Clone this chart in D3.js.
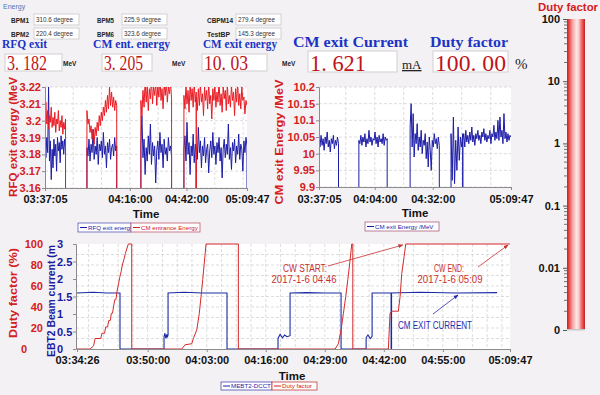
<!DOCTYPE html>
<html>
<head>
<meta charset="utf-8">
<title>CW commissioning monitor</title>
<script src="https://cdn.jsdelivr.net/npm/d3@7"></script>
<style>
  body { margin: 0; background: #f4f1f4; }
  svg { display: block; font-family: "Liberation Sans", Arial, sans-serif; }
</style>
</head>
<body>
<div id="chart"></div>
<script>
// ---------- data ----------
const bpmNames = ["BPM1", "BPM2", "BPM5", "BPM6", "CBPM14", "TestBP"];
const bpmPhases = [310.6, 220.4, 225.9, 323.6, 279.4, 145.3];

const readoutTitles = ["RFQ exit", "CM ent. energy", "CM exit energy", "CM exit Current", "Duty factor"];
const readoutValues = ["3. 182", "3. 205", "10. 03", "1. 621", "100. 00"];
const readoutUnits = ["MeV", "MeV", "MeV", "mA", "%"];

// beam-on spans shared by the two top trends (last one split by the short trip at 04:46:30)
const topSpans = [["03:37:05", "03:46:30"], ["03:56:20", "04:10:00"], ["04:21:05", "04:35:10"],
                  ["04:40:50", "04:46:30"], ["04:46:30", "05:09:47"]];

// RFQ exit energy (MeV), blue
const rfqExit = [
  [3.186,3.178,3.190,3.181,3.220,3.176,3.188,3.165,3.183,3.172,3.189,3.179,3.186,3.170,3.190,3.182,3.187,3.175,3.191,3.183,3.188,3.180,3.189,3.184],
  [3.184,3.179,3.189,3.176,3.186,3.181,3.195,3.177,3.185,3.180,3.190,3.174,3.186,3.182,3.188,3.178,3.193,3.180,3.185,3.172,3.187,3.181,3.189,3.177,3.184,3.186,3.179,3.190,3.182,3.185],
  [3.186,3.203,3.178,3.189,3.168,3.184,3.176,3.191,3.180,3.198,3.174,3.187,3.179,3.185,3.163,3.182,3.188,3.177,3.193,3.181,3.186,3.172,3.189,3.180,3.184,3.176,3.190,3.182,3.185,3.179],
  [3.183,3.191,3.176,3.199,3.180,3.187,3.168,3.185,3.179,3.192,3.175,3.186,3.181],
  [3.184,3.177,3.196,3.181,3.188,3.172,3.185,3.179,3.190,3.175,3.183,3.186,3.169,3.182,3.188,3.178,3.193,3.180,3.185,3.174,3.187,3.181,3.190,3.176,3.184,3.166,3.183,3.189,3.178,3.186,3.180,3.198,3.177,3.184,3.171,3.187,3.182,3.189,3.175,3.185,3.180,3.192,3.177,3.186,3.183,3.170,3.188,3.181,3.190,3.185]
];

// CM entrance energy (MeV), red
const cmEntrance = [
  [3.204,3.211,3.198,3.206,3.195,3.203,3.199,3.208,3.196,3.202,3.197,3.205,3.193,3.201,3.198,3.206,3.194,3.200,3.196,3.203,3.192,3.199,3.195,3.201],
  [3.206,3.198,3.201,3.193,3.197,3.189,3.195,3.186,3.196,3.191,3.199,3.194,3.203,3.197,3.205,3.200,3.208,3.203,3.212,3.205,3.215,3.207,3.220,3.209,3.217,3.208,3.214,3.206,3.212,3.209],
  [3.212,3.203,3.218,3.208,3.224,3.211,3.221,3.206,3.219,3.213,3.225,3.210,3.220,3.215,3.223,3.209,3.221,3.214,3.226,3.212,3.219,3.207,3.222,3.215,3.224,3.211,3.220,3.216,3.223,3.213],
  [3.215,3.207,3.221,3.210,3.218,3.205,3.222,3.212,3.219,3.208,3.223,3.211,3.217],
  [3.214,3.206,3.219,3.209,3.222,3.211,3.216,3.203,3.220,3.212,3.218,3.207,3.223,3.210,3.215,3.201,3.219,3.212,3.221,3.208,3.217,3.211,3.224,3.209,3.216,3.205,3.220,3.213,3.218,3.206,3.222,3.210,3.215,3.208,3.221,3.212,3.217,3.203,3.219,3.211,3.223,3.209,3.216,3.207,3.220,3.212,3.214,3.204,3.212,3.209]
];

// CM exit energy (MeV), blue
const cmExit = [
  [10.04,10.02,10.055,10.025,10.045,10.01,10.05,10.03,10.065,10.02,10.04,10.005,10.045,10.03,10.055,10.015,10.04,10.025,10.05,10.03],
  [10.04,10.03,10.055,10.025,10.05,10.035,10.06,10.02,10.045,10.03,10.07,10.035,10.05,10.025,10.045,10.04,10.065,10.03,10.05,10.02,10.055,10.035,10.045,10.03,10.06,10.025,10.05,10.04,10.045],
  [10.08,10.15,10.02,10.12,9.99,10.06,10.03,10.09,10.01,10.05,10.02,10.07,10.0,10.04,10.025,10.06,9.985,10.035,9.96,10.05,10.01,9.95,10.04,10.02,10.06,10.03,10.045,10.015,10.05,10.025],
  [10.06,9.92,10.11,9.91,10.04,9.95,10.08,9.98,10.05,10.02,10.06],
  [10.04,10.06,10.02,10.07,10.035,10.055,10.03,10.065,10.04,10.08,10.035,10.055,10.025,10.06,10.045,10.07,10.04,10.055,10.03,10.065,10.05,10.075,10.04,10.06,10.035,10.055,10.045,10.07,10.03,10.06,10.05,10.085,10.04,10.065,10.045,10.1,10.04,10.11,10.05,10.07,10.03,10.12,10.045,10.065,10.035,10.06,10.04,10.055,10.05]
];

// MEBT2-DCCT beam current (mA)
const dcctPts = [
  ["03:34:26",1.6],["03:38:00",1.62],["03:41:00",1.6],["03:43:54",1.6],["03:43:54",0],
  ["03:53:36",0],["03:53:36",0.35],["03:53:48",0.45],["03:54:00",0.3],["03:54:12",0.42],["03:54:20",0.33],["03:54:29",0.4],
  ["03:54:29",1.6],["03:58:00",1.62],["04:02:00",1.6],["04:07:28",1.6],["04:07:28",0],
  ["04:18:42",0],["04:18:42",0.3],["04:19:10",0.42],["04:19:40",0.32],["04:20:10",0.4],["04:20:40",0.35],["04:21:21",0.38],
  ["04:21:21",1.6],["04:25:00",1.61],["04:29:00",1.6],["04:32:35",1.6],["04:32:35",0],
  ["04:38:06",0],["04:38:06",0.32],["04:38:30",0.4],["04:39:00",0.3],["04:39:25",0.36],
  ["04:39:25",1.6],["04:43:36",1.6],["04:43:36",0],["04:43:42",0],["04:43:42",1.6],
  ["04:50:00",1.62],["04:58:00",1.6],["05:06:57",1.61]
];

// Duty factor (%)
const dutyPts = [
  ["03:34:26",0],["03:37:18",0],["03:38:05",3],["03:38:25",10],["03:39:40",10],["03:39:55",15],["03:40:30",15],
  ["03:40:45",21],["03:41:10",21],["03:41:25",27],["03:41:45",27],["03:42:00",34],["03:42:15",34],["03:42:30",41],
  ["03:42:45",47],["03:43:00",47],["03:43:15",55],["03:43:35",62],["03:43:50",68],["03:44:10",74],["03:44:25",80],
  ["03:44:45",85],["03:45:05",91],["03:45:44",100],["03:46:29",100],["03:46:29",0],
  ["03:57:30",0],["03:58:13",4],["03:59:42",5],["04:00:03",10],["04:00:48",18],["04:01:22",34],["04:01:45",50],
  ["04:02:07",66],["04:02:28",82],["04:02:51",100],["04:09:58",100],["04:09:58",0],
  ["04:31:16",0],["04:31:59",5],["04:32:35",18],["04:33:06",34],["04:33:37",50],["04:34:04",66],["04:34:30",82],
  ["04:34:56",100],["04:35:10",100],["04:35:10",0],
  ["04:43:00",0],["04:43:22",34],["04:43:45",36],["04:45:12",36],["04:45:35",50],["04:45:57",72],["04:46:28",88],
  ["04:46:50",100],["05:09:47",100]
];

// tick labels
const tlTicks = ["03:37:05", "04:16:00", "04:42:00", "05:09:47"];
const trTicks = ["03:37:05", "04:04:00", "04:32:00", "05:09:47"];
const btTicks = ["03:34:26", "03:50:00", "04:03:00", "04:16:00", "04:29:00", "04:42:00", "04:55:00", "05:09:47"];
const tlYTicks = [3.16, 3.17, 3.18, 3.19, 3.2, 3.21, 3.22];
const trYTicks = [9.9, 9.95, 10, 10.05, 10.1, 10.15, 10.2];
const dutyTicks = [0, 20, 40, 60, 80, 100];
const currentTicks = [0, 0.5, 1, 1.5, 2, 2.5, 3];
const barTicks = [0.001, 0.01, 0.1, 1, 10, 100];
const dutyNow = 100;

// ---------- setup ----------
const parseT = d3.timeParse("%H:%M:%S");
const fmtT = d3.timeFormat("%H:%M:%S");
const RED = "#ea1c24", BLUE = "#1c1ca8", AXIS = "#8c8c8c";

const svg = d3.select("#chart").append("svg").attr("width", 600).attr("height", 395);
const defs = svg.append("defs");

// arrow heads
[["arR", "#c83030"], ["arB", "#2a2ab0"]].forEach(([id, c]) => {
  defs.append("marker").attr("id", id).attr("viewBox", "0 0 10 10").attr("refX", 9).attr("refY", 5)
    .attr("markerWidth", 6).attr("markerHeight", 6).attr("orient", "auto")
    .append("path").attr("d", "M0,1L10,5L0,9z").attr("fill", c);
});

// ---------- header readouts ----------
svg.append("text").attr("x", 3).attr("y", 9).attr("font-size", 7).attr("fill", "#4a78b8").text("Energy");

const bpmLabelX = [11, 97, 207], bpmBoxX = [34, 122, 236], bpmRowY = [14, 28];
const bpmLabelLen = [18, 18, 17, 17, 26, 23];
bpmNames.forEach((n, i) => {
  const c = Math.floor(i / 2), r = i % 2;
  svg.append("text").attr("x", bpmLabelX[c]).attr("y", bpmRowY[r] + 8.5)
    .attr("font-size", 8).attr("font-weight", "bold").attr("fill", "#222")
    .attr("textLength", bpmLabelLen[i]).attr("lengthAdjust", "spacingAndGlyphs").text(n);
  svg.append("rect").attr("x", bpmBoxX[c]).attr("y", bpmRowY[r]).attr("width", 45).attr("height", 11)
    .attr("fill", "#fff").attr("stroke", "#c8c8c8").attr("stroke-width", 0.8);
  svg.append("text").attr("x", bpmBoxX[c] + 2).attr("y", bpmRowY[r] + 8)
    .attr("font-size", 6.3).attr("fill", "#333").text(bpmPhases[i].toFixed(1) + " degree");
});

const titleX = [2, 93, 203, 293, 430], titleY = [48, 48, 48, 47, 47];
const titleSize = [12, 12, 12, 15, 15], titleLen = [45, 77, 74, 115, 78];
const boxX = [5, 102, 202, 308, 433], boxW = [57, 50, 65, 89, 75], boxY = [54, 54, 54, 51, 51], boxH = [17, 17, 17, 21, 21];
const valSize = [21, 21, 21, 24, 24], valLen = [40, 39, 44, 56, 71];
const unitX = [63, 172, 282, 402, 515];
readoutTitles.forEach((t, i) => {
  svg.append("text").attr("x", titleX[i]).attr("y", titleY[i])
    .attr("font-family", "Liberation Serif, Times New Roman, serif").attr("font-weight", "bold")
    .attr("font-size", titleSize[i]).attr("fill", "#1a35c4")
    .attr("textLength", titleLen[i]).attr("lengthAdjust", "spacingAndGlyphs").text(t);
  svg.append("rect").attr("x", boxX[i]).attr("y", boxY[i]).attr("width", boxW[i]).attr("height", boxH[i])
    .attr("fill", "#fff").attr("stroke", "#cfcfcf").attr("stroke-width", 1);
  svg.append("text").attr("x", boxX[i] + 2).attr("y", boxY[i] + boxH[i] - 1.5)
    .attr("font-family", "Liberation Serif, Times New Roman, serif")
    .attr("font-size", valSize[i]).attr("fill", "#c0141c")
    .attr("textLength", valLen[i]).attr("lengthAdjust", "spacingAndGlyphs").text(readoutValues[i]);
  const u = svg.append("text").attr("x", unitX[i]).text(readoutUnits[i]);
  if (i < 3) {
    u.attr("y", 66).attr("font-size", 6.5).attr("font-weight", "bold").attr("fill", "#222");
  } else {
    u.attr("y", 69).attr("font-family", "Liberation Serif, Times New Roman, serif")
      .attr("font-size", i === 3 ? 13 : 15).attr("fill", "#222")
      .attr("text-decoration", i === 3 ? "underline" : null);
  }
});

// ---------- helpers ----------
function trace(spans, segs, low, endDrop) {
  const pts = [];
  segs.forEach((vals, i) => {
    const t0 = +parseT(spans[i][0]), t1 = +parseT(spans[i][1]);
    if (i > 0) pts.push([t0, low]);
    vals.forEach((v, j) => pts.push([t0 + (t1 - t0) * j / (vals.length - 1), v]));
    if (i < segs.length - 1 || endDrop) pts.push([t1, low]);
  });
  return pts;
}

function panel(id, x0, x1, y0, y1) {
  svg.append("rect").attr("x", x0).attr("y", y0).attr("width", x1 - x0).attr("height", y1 - y0).attr("fill", "#fff");
  defs.append("clipPath").attr("id", id).append("rect")
    .attr("x", x0).attr("y", y0).attr("width", x1 - x0).attr("height", y1 - y0);
}

function grid(xs, ys, x, y, x0, x1, y0, y1) {
  const g = svg.append("g").attr("stroke", "#d4d4d4").attr("stroke-dasharray", "3,2").attr("stroke-width", 0.8);
  xs.forEach(t => g.append("line").attr("x1", x(t)).attr("x2", x(t)).attr("y1", y0).attr("y2", y1));
  ys.forEach(v => g.append("line").attr("x1", x0).attr("x2", x1).attr("y1", y(v)).attr("y2", y(v)));
}

function styleAxis(g, color) {
  g.attr("font-family", "Liberation Sans, Arial, sans-serif").attr("font-size", 11).attr("font-weight", "bold");
  g.select(".domain").attr("stroke", AXIS);
  g.selectAll(".tick line").attr("stroke", AXIS);
  g.selectAll(".tick text").attr("fill", color);
}

function vLabel(x, y, text, color, len) {
  svg.append("text").attr("transform", `translate(${x},${y}) rotate(-90)`).attr("text-anchor", "middle")
    .attr("font-size", 11).attr("font-weight", "bold").attr("fill", color)
    .attr("textLength", len).attr("lengthAdjust", "spacingAndGlyphs").text(text);
}

function timeLabel(x, y) {
  svg.append("text").attr("x", x).attr("y", y).attr("text-anchor", "middle")
    .attr("font-size", 11.5).attr("font-weight", "bold").attr("fill", "#111").text("Time");
}

function legendItem(x, y, w, h, border, color, label) {
  svg.append("rect").attr("x", x).attr("y", y).attr("width", w).attr("height", h)
    .attr("fill", "#fff").attr("stroke", border).attr("stroke-width", 0.8);
  svg.append("line").attr("x1", x + 2).attr("x2", x + 9).attr("y1", y + h / 2).attr("y2", y + h / 2)
    .attr("stroke", color).attr("stroke-width", 1);
  svg.append("text").attr("x", x + 10).attr("y", y + h - 2).attr("font-size", 6.2).attr("fill", color).text(label);
}

const line = (x, y) => d3.line().x(d => x(d[0])).y(d => y(d[1]));

// ---------- top-left: RFQ exit / CM entrance energy ----------
const xTL = d3.scaleTime().domain([parseT("03:37:05"), parseT("05:09:47")]).range([45, 247]);
const yTL = d3.scaleLinear().domain([3.16, 3.22]).range([188, 87]);
panel("clipTL", 45, 247, 87, 188);
grid(["03:50:00", "04:03:00", "04:16:00", "04:29:00", "04:42:00", "04:55:00", "05:08:00"].map(parseT),
     tlYTicks, xTL, yTL, 45, 247, 87, 188);
svg.append("path").datum(trace(topSpans, rfqExit, 3.0, true)).attr("clip-path", "url(#clipTL)")
  .attr("fill", "none").attr("stroke", BLUE).attr("stroke-width", 1).attr("d", line(xTL, yTL));
svg.append("path").datum(trace(topSpans, cmEntrance, 3.0, false)).attr("clip-path", "url(#clipTL)")
  .attr("fill", "none").attr("stroke", RED).attr("stroke-width", 1).attr("d", line(xTL, yTL));
styleAxis(svg.append("g").attr("transform", "translate(0,188)")
  .call(d3.axisBottom(xTL).tickValues(tlTicks.map(parseT)).tickFormat(fmtT).tickSize(3).tickPadding(4)), "#111");
styleAxis(svg.append("g").attr("transform", "translate(45,0)")
  .call(d3.axisLeft(yTL).tickValues(tlYTicks).tickFormat(d3.format("~g")).tickSize(3).tickPadding(1)), "#d42020");
vLabel(17, 137, "RFQ exit energy (MeV", "#d42020", 120);
timeLabel(146, 218);
legendItem(78, 223, 53, 9, "#5a5ab4", BLUE, "RFQ exit energy");
legendItem(131, 223, 69, 9, "#c05a6a", "#d02020", "CM entrance Energy");

// ---------- top-right: CM exit energy ----------
const xTR = d3.scaleTime().domain([parseT("03:37:05"), parseT("05:09:47")]).range([319, 511]);
const yTR = d3.scaleLinear().domain([9.9, 10.2]).range([187, 87]);
panel("clipTR", 319, 511, 87, 187);
grid(["03:50:00", "04:04:00", "04:18:00", "04:32:00", "04:46:00", "05:00:00"].map(parseT),
     trYTicks, xTR, yTR, 319, 511, 87, 187);
svg.append("path").datum(trace(topSpans, cmExit, 9.5, false)).attr("clip-path", "url(#clipTR)")
  .attr("fill", "none").attr("stroke", BLUE).attr("stroke-width", 1).attr("d", line(xTR, yTR));
styleAxis(svg.append("g").attr("transform", "translate(0,187)")
  .call(d3.axisBottom(xTR).tickValues(trTicks.map(parseT)).tickFormat(fmtT).tickSize(3).tickPadding(5)), "#111");
styleAxis(svg.append("g").attr("transform", "translate(319,0)")
  .call(d3.axisLeft(yTR).tickValues(trYTicks).tickFormat(d3.format("~g")).tickSize(3).tickPadding(1)), "#d42020");
vLabel(283, 142, "CM exit Energy /MeV", "#d42020", 125);
timeLabel(415, 217);
legendItem(365, 222, 74, 9, "#b06080", BLUE, "CM exit Energy /MeV");

// ---------- bottom: duty factor and beam current ----------
const xB = d3.scaleTime().domain([parseT("03:34:26"), parseT("05:09:47")]).range([77, 510]);
const yD = d3.scaleLinear().domain([0, 100]).range([349, 244]);
const yC = d3.scaleLinear().domain([0, 3]).range([349, 244]);
panel("clipB", 76, 510, 244, 349);
const bGrid = d3.range(-5, 25).map(k => new Date(+parseT("03:50:00") + k * 195000))
  .filter(d => d > parseT("03:34:26") && d < parseT("05:09:47"));
grid(bGrid, d3.range(10, 100, 10), xB, yD, 76, 510, 244, 349);

const pts = a => a.map(d => [parseT(d[0]), d[1]]);
svg.append("path").datum(pts(dcctPts)).attr("clip-path", "url(#clipB)")
  .attr("fill", "none").attr("stroke", "#1a2aa6").attr("stroke-width", 1.1).attr("d", line(xB, yC));
svg.append("path").datum(pts(dutyPts))
  .attr("fill", "none").attr("stroke", "#d42a2a").attr("stroke-width", 1).attr("d", line(xB, yD));

styleAxis(svg.append("g").attr("transform", "translate(0,349)")
  .call(d3.axisBottom(xB).tickValues(btTicks.map(parseT)).tickFormat(fmtT).tickSize(3).tickPadding(4)), "#111");
const cAx = svg.append("g").attr("transform", "translate(76,0)")
  .call(d3.axisLeft(yC).tickValues(currentTicks).tickFormat(d3.format("~g")).tickSize(3));
styleAxis(cAx, "#1a1aa0");
cAx.selectAll(".tick text").attr("text-anchor", "start").attr("x", -19);
const dAx = svg.append("g").attr("transform", "translate(76,0)")
  .call(d3.axisLeft(yD).tickValues(dutyTicks).tickSize(0));
styleAxis(dAx, "#d42020");
dAx.select(".domain").remove();
dAx.selectAll(".tick text").attr("x", d => d === 0 ? -49 : -33);
vLabel(17, 293, "Duty factor  (%)", "#d42020", 90);
vLabel(55, 301, "EBT2 Beam current (m", "#1a1aa0", 112);
timeLabel(292, 380);
legendItem(221, 382, 51, 8, "#4a4ab0", BLUE, "MEBT2-DCCT");
legendItem(272, 382, 45, 8, "#c04040", "#d02020", "Duty factor");

// annotations
function note(x, y, text, color, len) {
  svg.append("text").attr("x", x).attr("y", y).attr("text-anchor", "middle").attr("font-size", 10)
    .attr("fill", color).attr("textLength", len).attr("lengthAdjust", "spacingAndGlyphs").text(text);
}
note(305, 272, "CW START:", "#c83030", 44);
note(304, 283, "2017-1-6  04:46", "#c83030", 65);
note(449, 272, "CW END:", "#c83030", 30);
note(450, 283, "2017-1-6  05:09", "#c83030", 65);
note(435, 329, "CM EXIT CURRENT", "#2a2ab0", 74);
svg.append("line").attr("x1", 328).attr("y1", 266)
  .attr("x2", xB(parseT("04:46:50")) - 3).attr("y2", yD(100) + 1)
  .attr("stroke", "#c83030").attr("stroke-width", 0.8).attr("marker-end", "url(#arR)");
svg.append("line").attr("x1", 478).attr("y1", 267)
  .attr("x2", xB(parseT("05:09:47")) - 2).attr("y2", yD(100) + 1)
  .attr("stroke", "#c83030").attr("stroke-width", 0.8).attr("marker-end", "url(#arR)");
svg.append("line").attr("x1", 433).attr("y1", 314)
  .attr("x2", xB(parseT("04:58:20"))).attr("y2", yC(1.6) + 2)
  .attr("stroke", "#2a2ab0").attr("stroke-width", 0.8).attr("marker-end", "url(#arB)");

// ---------- right: duty factor gauge ----------
const grad = defs.append("linearGradient").attr("id", "barGrad").attr("x1", 0).attr("x2", 1).attr("y1", 0).attr("y2", 0);
[[0, "#c81e1e"], [0.12, "#e84848"], [0.3, "#f5a0a0"], [0.52, "#fde6e6"], [0.64, "#fbd0d0"],
 [0.8, "#f07070"], [0.92, "#e03a3a"], [1, "#c42020"]]
  .forEach(([o, c]) => grad.append("stop").attr("offset", o).attr("stop-color", c));
const yBar = d3.scaleLog().domain([0.001, 100]).range([330, 19]);
svg.append("text").attr("x", 538).attr("y", 11).attr("font-size", 11.5).attr("font-weight", "bold")
  .attr("fill", "#d42020").attr("textLength", 60).attr("lengthAdjust", "spacingAndGlyphs").text("Duty factor");
svg.append("rect").attr("x", 567).attr("y", yBar(dutyNow)).attr("width", 18).attr("height", 330 - yBar(dutyNow))
  .attr("fill", "url(#barGrad)");
svg.append("rect").attr("x", 567).attr("y", 329).attr("width", 18).attr("height", 1.5).attr("fill", "#c8c8c8");
const minor = [];
barTicks.slice(0, -1).forEach(b => d3.range(2, 10).forEach(k => minor.push(b * k)));
svg.append("g").selectAll("line").data(minor).join("line")
  .attr("x1", 564).attr("x2", 567).attr("y1", d => yBar(d)).attr("y2", d => yBar(d))
  .attr("stroke", "#555").attr("stroke-width", 0.8);
const bAx = svg.append("g").attr("transform", "translate(567,0)")
  .call(d3.axisLeft(yBar).tickValues(barTicks).tickSize(4).tickPadding(3)
    .tickFormat(d => d === 0.001 ? "0" : d3.format("~g")(d)));
styleAxis(bAx, "#111");
bAx.select(".domain").remove();
bAx.selectAll(".tick line").attr("stroke", "#555");
</script>
</body>
</html>
